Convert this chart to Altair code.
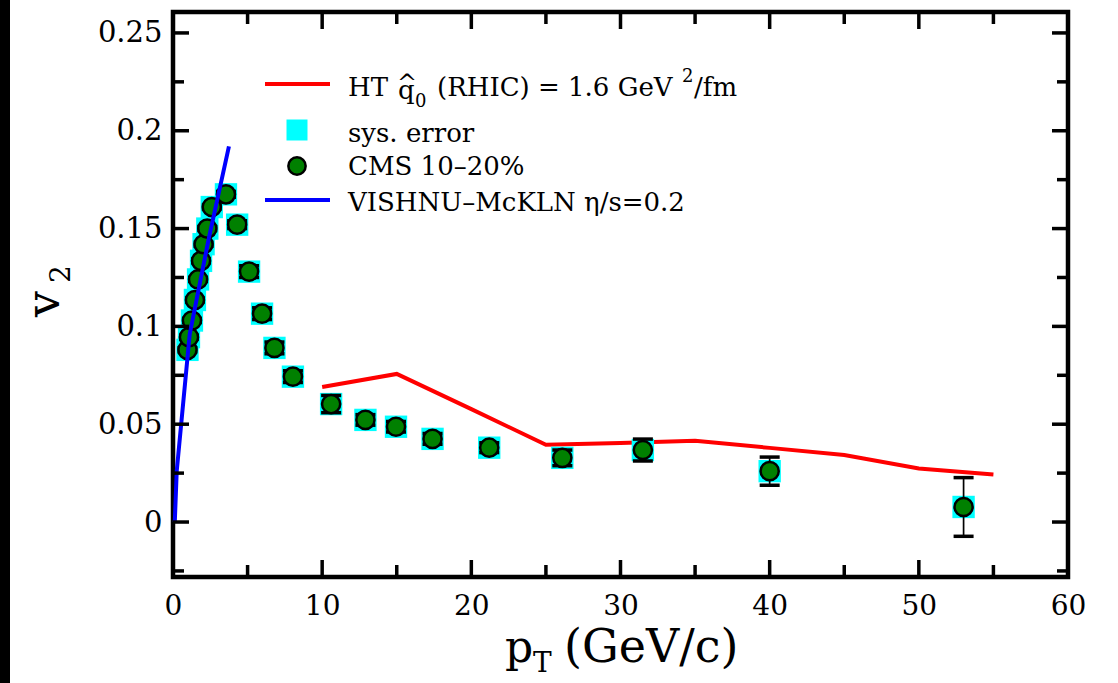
import altair as alt
import pandas as pd

# ---------------- data ----------------
cms_pt = [0.97, 1.07, 1.27, 1.47, 1.68, 1.88, 2.05, 2.3, 2.6, 3.55, 4.3, 5.1,
          5.97, 6.8, 8.04, 10.6, 12.9, 14.95, 17.4, 21.2, 26.1, 31.5, 40.0, 53.0]
cms_v2 = [0.088, 0.0945, 0.103, 0.1135, 0.124, 0.1335, 0.142, 0.150, 0.161, 0.1675,
          0.152, 0.128, 0.1065, 0.089, 0.0743, 0.0603, 0.0522, 0.0487, 0.0425, 0.038,
          0.0328, 0.0368, 0.026, 0.0077]
cms_err = [0.001, 0.001, 0.001, 0.001, 0.001, 0.001, 0.001, 0.001, 0.001, 0.0015,
           0.002, 0.003, 0.003, 0.003, 0.003, 0.0044, 0.0027, 0.0027, 0.0027, 0.0025,
           0.004, 0.0056, 0.0072, 0.015]

ht_pt = [10, 15, 20, 25, 30, 35, 40, 45, 50, 55]
ht_v2 = [0.069, 0.0757, 0.0577, 0.0395, 0.0404, 0.0416, 0.0379, 0.0343, 0.0274, 0.0243]

vis_pt = [0.12, 0.25, 1.12, 2.4, 3.75]
vis_v2 = [0.0, 0.026, 0.096, 0.145, 0.192]

y_major = [0, 0.05, 0.1, 0.15, 0.2, 0.25]
y_minor = [-0.025, 0.025, 0.075, 0.125, 0.175, 0.225]
x_labels = [0, 10, 20, 30, 40, 50, 60]
x_major = [10, 20, 30, 40, 50]
x_minor = [5, 15, 25, 35, 45, 55]

legend_labels = ["sys. error", "CMS 10\u201320%", "VISHNU\u2013McKLN \u03b7/s=0.2"]

# ---------------- chart ----------------
W, H = 895, 565
FONT = "DejaVu Serif"
xs = alt.Scale(domain=[0, 60], nice=False, zero=False)
ys = alt.Scale(domain=[-0.0281, 0.2607], nice=False, zero=False)

AX = alt.Axis(values=x_labels, title=None, ticks=False, tickSize=0, domain=False, grid=False,
              labelFont=FONT, labelFontSize=28, labelColor="black", labelPadding=15,
              labelFlush=False, labelOverlap=False, format="d")
AY = alt.Axis(values=y_major, title=None, ticks=False, tickSize=0, domain=False, grid=False,
              labelFont=FONT, labelFontSize=29, labelColor="black", labelPadding=11,
              labelFlush=False, labelOverlap=False, format="~g")


def X(f):
    return alt.X(f"{f}:Q", scale=xs, axis=AX)


def Y(f):
    return alt.Y(f"{f}:Q", scale=ys, axis=AY)


cms = pd.DataFrame({"pt": cms_pt, "v2": cms_v2, "err": cms_err})
cms["lo"] = cms["v2"] - cms["err"]
cms["hi"] = cms["v2"] + cms["err"]
ht = pd.DataFrame({"pt": ht_pt, "v2": ht_v2})
vis = pd.DataFrame({"pt": vis_pt, "v2": vis_v2})
one = pd.DataFrame({"a": [0]})

red = alt.Chart(ht).mark_line(color="#ff0000", strokeWidth=4).encode(x=X("pt"), y=Y("v2"))
sys_ = alt.Chart(cms).mark_square(color="#00ffff", size=500, opacity=1).encode(x=X("pt"), y=Y("v2"))
bars = alt.Chart(cms).mark_rule(color="black", strokeWidth=1.7).encode(
    x=X("pt"), y=Y("lo"), y2=alt.Y2("hi"))
caps = alt.Chart(cms).transform_fold(["lo", "hi"], as_=["k", "cy"]).mark_tick(
    color="black", orient="horizontal", size=20, thickness=3.5, opacity=1).encode(
    x=X("pt"), y=Y("cy"))
pts = alt.Chart(cms).mark_circle(color="#008000", size=330, opacity=1, stroke="black",
                                 strokeWidth=2.5).encode(x=X("pt"), y=Y("v2"))
blue = alt.Chart(vis).mark_line(color="#0000ff", strokeWidth=4).encode(x=X("pt"), y=Y("v2"))

# inward ticks on all four sides
ymaj = pd.DataFrame({"y": y_major})
ymin = pd.DataFrame({"y": y_minor})
xmaj = pd.DataFrame({"x": x_major})
xmin = pd.DataFrame({"x": x_minor})
tk = dict(color="black", strokeWidth=3.5)
ticks = [
    alt.Chart(ymaj).mark_rule(**tk).encode(y=Y("y"), x=alt.value(0), x2=alt.value(16)),
    alt.Chart(ymin).mark_rule(**tk).encode(y=Y("y"), x=alt.value(0), x2=alt.value(11)),
    alt.Chart(ymaj).mark_rule(**tk).encode(y=Y("y"), x=alt.value(W), x2=alt.value(W - 16)),
    alt.Chart(ymin).mark_rule(**tk).encode(y=Y("y"), x=alt.value(W), x2=alt.value(W - 11)),
    alt.Chart(xmaj).mark_rule(**tk).encode(x=X("x"), y=alt.value(0), y2=alt.value(17)),
    alt.Chart(xmin).mark_rule(**tk).encode(x=X("x"), y=alt.value(0), y2=alt.value(12)),
    alt.Chart(xmaj).mark_rule(**tk).encode(x=X("x"), y=alt.value(H), y2=alt.value(H - 17)),
    alt.Chart(xmin).mark_rule(**tk).encode(x=X("x"), y=alt.value(H), y2=alt.value(H - 12)),
]


def txt(s, x, y, size=26, align="left", angle=0):
    m = alt.Chart(one).mark_text(text=s, font=FONT, fontSize=size, color="black",
                                 align=align, baseline="alphabetic", angle=angle)
    return m.encode(x=alt.value(x), y=alt.value(y))


# legend (drawn by hand, inside the frame)
LX = 175
leg = [
    alt.Chart(one).mark_rule(color="#ff0000", strokeWidth=4).encode(
        x=alt.value(92), x2=alt.value(157), y=alt.value(72)),
    alt.Chart(one).mark_square(color="#00ffff", size=441, opacity=1).encode(
        x=alt.value(124), y=alt.value(118)),
    alt.Chart(one).mark_circle(color="#008000", size=300, opacity=1, stroke="black",
                               strokeWidth=2.5).encode(x=alt.value(124), y=alt.value(154)),
    alt.Chart(one).mark_rule(color="#0000ff", strokeWidth=4).encode(
        x=alt.value(92), x2=alt.value(157), y=alt.value(188)),
    # HT q-hat_0 (RHIC) = 1.6 GeV^2/fm, composed of pieces
    txt("HT", LX, 84),
    txt("q", 225, 87),
    txt("^", 234, 79, size=24, align="center"),
    txt("0", 242, 95, size=18),
    txt("(RHIC) = 1.6 GeV", 264, 84),
    txt("2", 509, 70, size=18),
    txt("/fm", 521, 84),
]
for lab, by in zip(legend_labels, [130, 163, 199]):
    leg.append(txt(lab, LX, by))

# axis titles with sub/superscripts
titles = [
    txt("p", 332, 650, size=44),
    txt("T", 360, 660, size=28),
    txt("(GeV/c)", 391, 650, size=46),
    txt("v", -114, 292, size=46, align="center", angle=270),
    txt("2", -103, 262, size=28, align="center", angle=270),
]

strip = alt.Chart(one).mark_rect(color="black").encode(
    x=alt.value(-173), x2=alt.value(-163), y=alt.value(-12), y2=alt.value(H + 106))

chart = alt.layer(
    strip, red, sys_, bars, caps, pts, blue, *ticks, *leg, *titles
).properties(
    width=W, height=H,
    autosize=alt.AutoSizeParams(type="none"),
    padding={"left": 173, "top": 12, "right": 50, "bottom": 106},
    background="white",
).configure_view(stroke="black", strokeWidth=4.5)

chart.save("out.html", embed_options={"renderer": "svg", "actions": False})
